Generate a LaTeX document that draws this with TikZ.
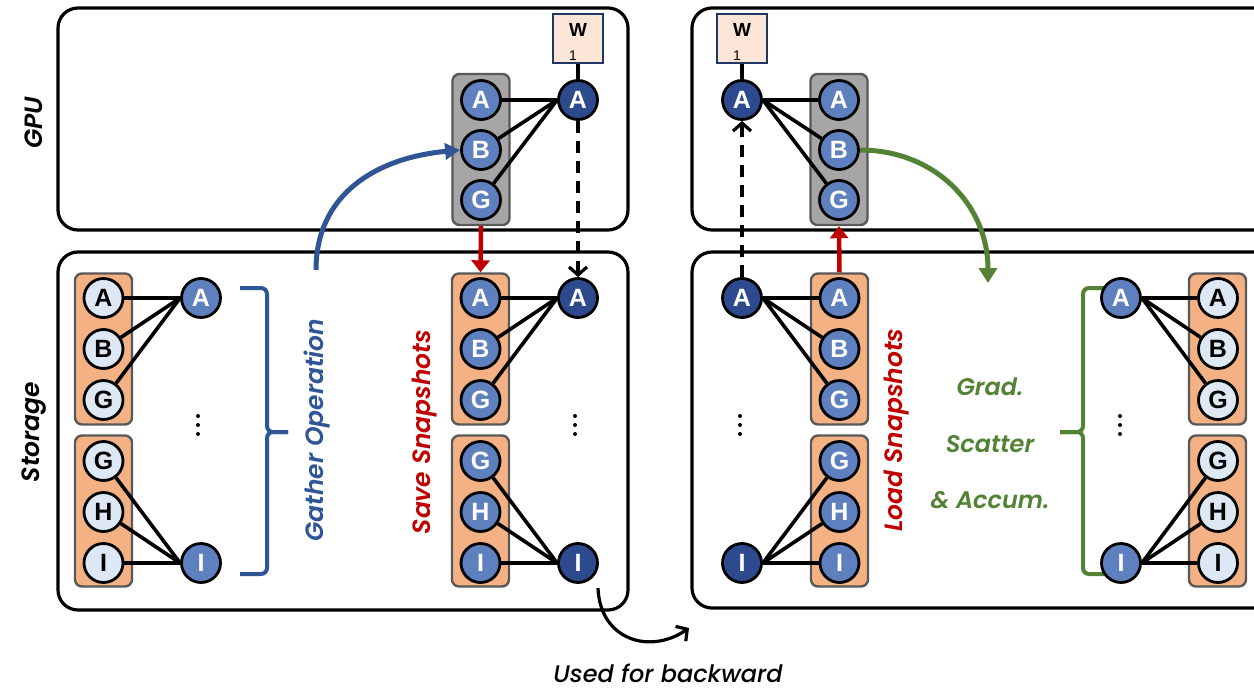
\documentclass[tikz,border=0pt]{standalone}
\usepackage{fontspec}
\setmainfont{Poppins}
\newfontfamily\semib{Poppins}[UprightFont=* SemiBold, ItalicFont=* SemiBold Italic, BoldFont=* Bold, BoldItalicFont=* Bold Italic]
\newfontfamily\medf{Poppins}[UprightFont=* Medium, ItalicFont=* Medium Italic]
\newfontfamily\nodefont{Liberation Sans}
\usetikzlibrary{arrows.meta}
\definecolor{darkblue}{HTML}{2E4A8E}
\definecolor{midblue}{HTML}{5F80BF}
\definecolor{lightblue}{HTML}{DEE8F4}
\definecolor{orangefill}{HTML}{F4B183}
\definecolor{groupedge}{HTML}{595959}
\definecolor{grayfill}{HTML}{A6A6A6}
\definecolor{wfill}{HTML}{FBE5D6}
\definecolor{wedge}{HTML}{203864}
\definecolor{textblue}{HTML}{2F5597}
\definecolor{textred}{HTML}{C00000}
\definecolor{textgreen}{HTML}{548235}
\tikzset{
  panel/.style={draw, line width=3.2pt, rounded corners=20pt},
  grp/.style={draw=groupedge, line width=2.4pt, rounded corners=7pt, minimum width=57pt, minimum height=151pt, inner sep=0pt},
  vtx/.style={circle, draw, line width=2.8pt, minimum size=39pt, inner sep=0pt, font=\nodefont\bfseries\fontsize{25}{25}\selectfont},
  lite/.style={vtx, fill=lightblue, text=black},
  mid/.style={vtx, fill=midblue, text=white},
  dark/.style={vtx, fill=darkblue, text=white},
  edge/.style={line width=3.6pt},
  vlabel/.style={rotate=90, font=\semib\itshape\fontsize{25}{25}\selectfont},
  wbox/.style={draw=wedge, fill=wfill, line width=2.4pt, minimum width=50pt, minimum height=49pt, inner sep=0pt},
  dotc/.style={circle, fill=black, inner sep=0pt, minimum size=4pt},
  dasharrow/.style={line width=3.2pt, dash pattern=on 12pt off 8pt, -{Straight Barb[length=8pt,width=18pt,line width=3.2pt]}},
  redarrow/.style={draw=textred, line width=4.5pt, -{Triangle[length=12pt,width=18pt]}},
}
\begin{document}
\begin{tikzpicture}[x=1pt,y=-1pt]
\clip (0,0) rectangle (1254,691);
\fill[white] (0,0) rectangle (1254,691);
% panels
\draw[panel] (58,8) rectangle (628,230);
\draw[panel] (58,252) rectangle (628,610);
\draw[panel] (692,8) rectangle (1290,230);
\draw[panel] (692,252) rectangle (1290,608);
% side labels
\node[vlabel] (lgpu) at (34,123) {GPU};
\node[vlabel] (lsto) at (34,432) {Storage};

% ---------- left storage, left part
\node[grp, fill=orangefill] (g1) at (103.5,349) {};
\node[grp, fill=orangefill] (g2) at (103.5,511) {};
\node[lite] (sA) at (103.5,298) {A};
\node[lite] (sB) at (103.5,349) {B};
\node[lite] (sG) at (103.5,400) {G};
\node[lite] (sG2) at (103.5,461) {G};
\node[lite] (sH) at (103.5,512) {H};
\node[lite] (sI) at (103.5,563) {I};
\node[mid] (mA) at (201,298) {A};
\node[mid] (mI) at (201,563) {I};
\draw[edge] (sA) -- (mA.west);
\draw[edge] (sB) -- (mA.west);
\draw[edge] (sG) -- (mA.west);
\draw[edge] (sG2) -- (mI.west);
\draw[edge] (sH) -- (mI.west);
\draw[edge] (sI) -- (mI.west);
\node[dotc] (d1a) at (198,416) {};
\node[dotc] (d1b) at (198,425) {};
\node[dotc] (d1c) at (198,434) {};
% blue brace
\draw[textblue, line width=4pt, rounded corners=6pt] (240,288) -- (267,288) -- (267,432) -- (288,432);
\draw[textblue, line width=4pt, rounded corners=6pt] (288,432) -- (267,432) -- (267,574) -- (240,574);
\node[vlabel, text=textblue] (lgather) at (317,430) {Gather Operation};

% ---------- left GPU
\node[grp, fill=grayfill] (gg) at (481,149.5) {};
\node[mid] (gA) at (481,100) {A};
\node[mid] (gB) at (481,150) {B};
\node[mid] (gG) at (481,200) {G};
\node[dark] (gD) at (578,100) {A};
\draw[edge] (gA) -- (gD.west);
\draw[edge] (gB) -- (gD.west);
\draw[edge] (gG) -- (gD.west);
\node[wbox] (w1) at (578,38.5) {};
\node[font=\nodefont\bfseries\fontsize{19}{19}\selectfont, inner sep=0pt] (w1t) at (578,30) {W};
\node[font=\nodefont\fontsize{14}{14}\selectfont, inner sep=0pt] (w1s) at (573,56) {1};
\draw[edge] (w1.south) -- (gD.north);

% ---------- left storage, snapshot part
\node[grp, fill=orangefill] (s1) at (480.5,349) {};
\node[grp, fill=orangefill] (s2) at (480.5,511) {};
\node[mid] (pA) at (480.5,298) {A};
\node[mid] (pB) at (480.5,349) {B};
\node[mid] (pG) at (480.5,400) {G};
\node[mid] (pG2) at (480.5,461) {G};
\node[mid] (pH) at (480.5,512) {H};
\node[mid] (pI) at (480.5,563) {I};
\node[dark] (qA) at (578,298) {A};
\node[dark] (qI) at (578,563) {I};
\draw[edge] (pA) -- (qA.west);
\draw[edge] (pB) -- (qA.west);
\draw[edge] (pG) -- (qA.west);
\draw[edge] (pG2) -- (qI.west);
\draw[edge] (pH) -- (qI.west);
\draw[edge] (pI) -- (qI.west);
\node[dotc] (d2a) at (575,416) {};
\node[dotc] (d2b) at (575,425) {};
\node[dotc] (d2c) at (575,434) {};
\node[vlabel, text=textred] (lsave) at (425,432) {Save Snapshots};

% arrows left
\draw[redarrow] (gg.south) -- (s1.north);
\draw[dasharrow] (gD.south) -- (qA.north);
\draw[textblue, line width=5pt, -{Triangle[length=15pt,width=16pt]}] (316,270) .. controls (316,195) and (375,158) .. (gB.west);

% used for backward
\draw[line width=3.2pt, -{Straight Barb[length=8pt,width=18pt,line width=3.2pt]}] (598,588) .. controls (600,640) and (650,655) .. (689,628);
\node[font=\medf\itshape\fontsize{24}{24}\selectfont, inner sep=0pt] (lused) at (668,673) {Used for backward};

% ---------- right GPU
\node[dark] (hD) at (742,100) {A};
\node[wbox] (w2) at (742,38.5) {};
\node[font=\nodefont\bfseries\fontsize{19}{19}\selectfont, inner sep=0pt] (w2t) at (742,30) {W};
\node[font=\nodefont\fontsize{14}{14}\selectfont, inner sep=0pt] (w2s) at (737,56) {1};
\draw[edge] (w2.south) -- (hD.north);
\node[grp, fill=grayfill] (hg) at (839,149.5) {};
\node[mid] (hA) at (839,100) {A};
\node[mid] (hB) at (839,150) {B};
\node[mid] (hG) at (839,200) {G};
\draw[edge] (hD.east) -- (hA);
\draw[edge] (hD.east) -- (hB);
\draw[edge] (hD.east) -- (hG);

% ---------- right storage, load part
\node[dark] (rA) at (742,298) {A};
\node[dark] (rI) at (742,563) {I};
\node[grp, fill=orangefill] (t1) at (839.5,349) {};
\node[grp, fill=orangefill] (t2) at (839.5,511) {};
\node[mid] (tA) at (839.5,298) {A};
\node[mid] (tB) at (839.5,349) {B};
\node[mid] (tG) at (839.5,400) {G};
\node[mid] (tG2) at (839.5,461) {G};
\node[mid] (tH) at (839.5,512) {H};
\node[mid] (tI) at (839.5,563) {I};
\draw[edge] (rA.east) -- (tA);
\draw[edge] (rA.east) -- (tB);
\draw[edge] (rA.east) -- (tG);
\draw[edge] (rI.east) -- (tG2);
\draw[edge] (rI.east) -- (tH);
\draw[edge] (rI.east) -- (tI);
\node[dotc] (d3a) at (740,416) {};
\node[dotc] (d3b) at (740,425) {};
\node[dotc] (d3c) at (740,434) {};
\node[vlabel, text=textred] (lload) at (897,430) {Load Snapshots};

\draw[redarrow] (t1.north) -- (hg.south);
\draw[dasharrow] (rA.north) -- (hD.south);
\draw[textgreen, line width=5pt, -{Triangle[length=15pt,width=18pt]}] (hB.east) .. controls (935,150) and (988,205) .. (988,283);

\node[text=textgreen, font=\semib\itshape\fontsize{24}{24}\selectfont, inner sep=0pt] (lgrad) at (990,387) {Grad.};
\node[text=textgreen, font=\semib\itshape\fontsize{24}{24}\selectfont, inner sep=0pt] (lscat) at (990,444) {Scatter};
\node[text=textgreen, font=\semib\itshape\fontsize{24}{24}\selectfont, inner sep=0pt] (lacc) at (990,500) {\& Accum.};

% green brace
\draw[textgreen, line width=4pt, rounded corners=6pt] (1104,288) -- (1083,288) -- (1083,432) -- (1060,432);
\draw[textgreen, line width=4pt, rounded corners=6pt] (1060,432) -- (1083,432) -- (1083,574) -- (1104,574);

% ---------- right storage, far part
\node[grp, fill=orangefill] (u1) at (1217.5,349) {};
\node[grp, fill=orangefill] (u2) at (1217.5,511) {};
\node[mid] (vA) at (1121,298) {A};
\node[mid] (vI) at (1121,563) {I};
\node[lite] (uA) at (1218,298) {A};
\node[lite] (uB) at (1218,349) {B};
\node[lite] (uG) at (1218,400) {G};
\node[lite] (uG2) at (1218,461) {G};
\node[lite] (uH) at (1218,512) {H};
\node[lite] (uI) at (1218,563) {I};
\draw[edge] (vA.east) -- (uA);
\draw[edge] (vA.east) -- (uB);
\draw[edge] (vA.east) -- (uG);
\draw[edge] (vI.east) -- (uG2);
\draw[edge] (vI.east) -- (uH);
\draw[edge] (vI.east) -- (uI);
\node[dotc] (d4a) at (1120,416) {};
\node[dotc] (d4b) at (1120,425) {};
\node[dotc] (d4c) at (1120,434) {};
\end{tikzpicture}
\end{document}
